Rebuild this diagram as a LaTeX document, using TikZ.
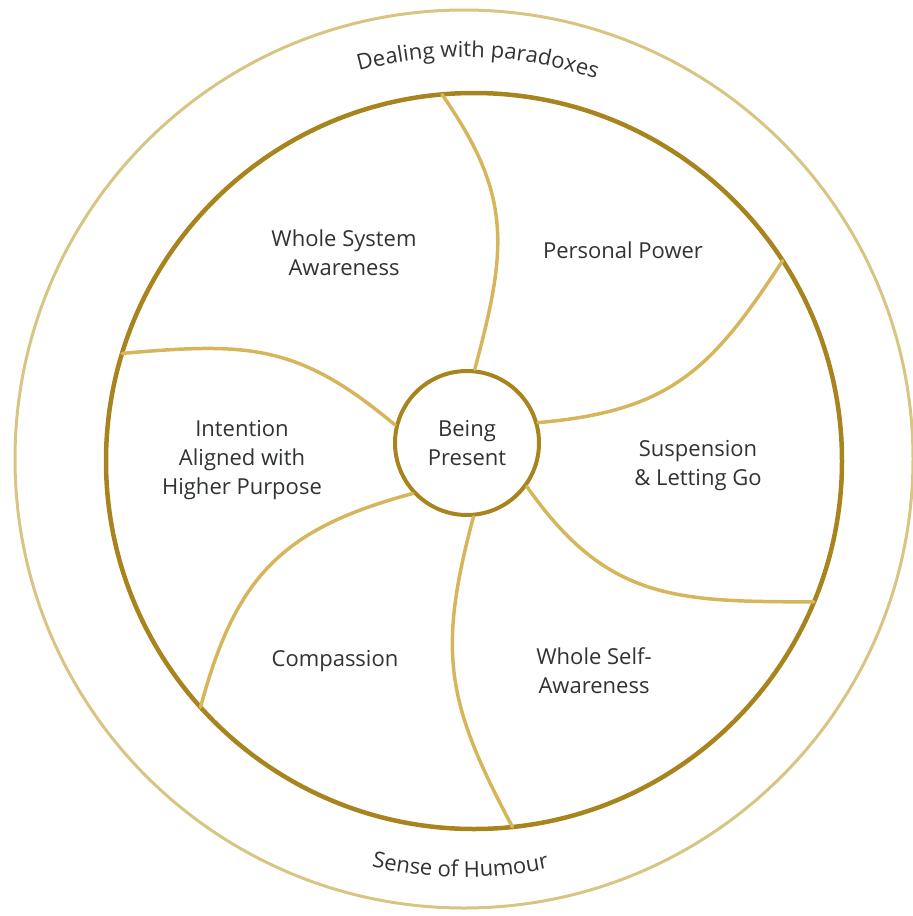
\documentclass[tikz,border=0pt]{standalone}
\usepackage{fontspec}
\setmainfont{Open Sans}
\usepackage{xcolor}
\usepackage{tikz}
\usetikzlibrary{decorations.text}
\definecolor{ink}{HTML}{2F3331}
\definecolor{gold}{HTML}{A8841E}
\definecolor{pale}{HTML}{D8C583}
\definecolor{sand}{HTML}{D6B65C}
\tikzset{
  rim/.style={draw=pale, line width=3pt},
  ring/.style={draw=gold, line width=4.5pt},
  spoke/.style={draw=sand, line width=3.5pt, line cap=round},
  core/.style={circle, draw=gold, line width=4pt, minimum size=144pt, inner sep=0pt,
    align=center, text=ink, font=\fontsize{22}{29}\selectfont},
  lab/.style={text=ink, align=center, font=\fontsize{22}{29}\selectfont},
  arclab/.style={decorate, decoration={text along path, text align=center, text color=ink}},
}

\begin{document}
\begin{tikzpicture}[x=1pt,y=1pt]
  \useasboundingbox (0,0) rectangle (913,-916);
  \coordinate (O) at (464,-459);
  \coordinate (I) at (474,-461);
  \draw[rim] (O) circle[radius=449];
  \draw[ring] (I) circle[radius=368];
  \node[core] (core) at (467,-443) {Being\\Present};
  % spokes: start angle on core / end angle on ring / out / in
  \foreach \n/\s/\e/\o/\i in {1/84/95/75/-55, 2/16/33/5/-123, 3/-36/-22.5/-55/180,
      4/-85/-84/-105/118, 5/-137/-138/-165/75, 6/166/163/140/5}{
    \coordinate (e\n) at ([shift={(I)}]\e:368);
    \draw[spoke] (core.\s) to[out=\o,in=\i,looseness=1.15] (e\n);
  }
  \node[lab] (wsa) at (344,-253) {Whole System\\Awareness};
  \node[lab] (pp) at (623,-250) {Personal Power};
  \node[lab] (iah) at (242,-460) {Intention\\Aligned with\\Higher Purpose};
  \node[lab] (slg) at (698,-466) {Suspension\\\& Letting Go};
  \node[lab] (com) at (335,-661) {Compassion};
  \node[lab] (wsf) at (594,-671) {Whole Self-\\Awareness};
  \path[arclab, decoration={text={|\fontsize{22}{22}\selectfont|Dealing with paradoxes}}]
    ([shift={(O)}]112:402) arc[start angle=112, end angle=64, radius=402];
  \path[arclab, decoration={text={|\fontsize{22}{22}\selectfont|Sense of Humour}}]
    ([shift={(O)}]-115:418) arc[start angle=-115, end angle=-66, radius=418];
\end{tikzpicture}
\end{document}
